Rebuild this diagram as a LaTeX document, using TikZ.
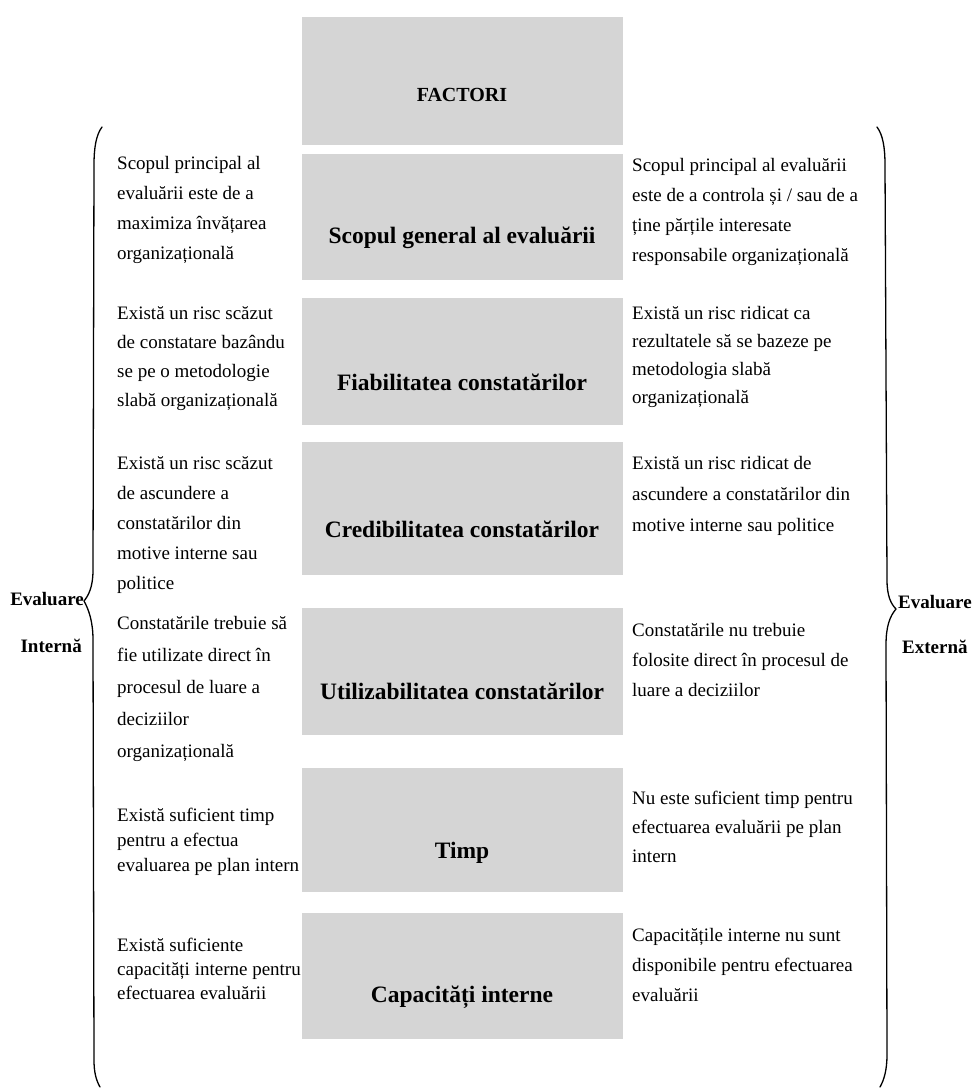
\documentclass[tikz,border=0pt]{standalone}
\usepackage{fontspec}
\setmainfont{Liberation Serif}
\definecolor{boxgray}{RGB}{213,213,213}
\tikzset{
  x=1pt, y=1pt,
  factorbox/.style={fill=boxgray, draw=none, minimum width=321pt, minimum height=#1, inner sep=0pt, anchor=north west},
  factorlabel/.style={font=\bfseries\fontsize{23.5}{26}\selectfont, inner sep=0pt},
  sidetext/.style={align=left, anchor=north west, inner sep=0pt, font=\fontsize{19}{#1}\selectfont},
  sidelabel/.style={font=\bfseries\fontsize{19}{22}\selectfont, inner sep=0pt},
  bracestyle/.style={line width=1.3pt, line cap=round, line join=round}
}
\begin{document}
\begin{tikzpicture}
\useasboundingbox (0,0) rectangle (979,-1092);
% gray factor boxes
\node[factorbox=128pt] (bf) at (302,-17) {};
\node[factorbox=126pt] (b1) at (302,-154) {};
\node[factorbox=127pt] (b2) at (302,-298) {};
\node[factorbox=133pt] (b3) at (302,-442) {};
\node[factorbox=127pt] (b4) at (302,-608) {};
\node[factorbox=124pt] (b5) at (302,-768) {};
\node[factorbox=126pt] (b6) at (302,-913) {};
% labels in boxes
\node[factorlabel, font=\bfseries\fontsize{20}{22}\selectfont] (lf) at (462,-95) {FACTORI};
\node[factorlabel] (l1) at (462,-238) {Scopul general al evaluării};
\node[factorlabel] (l2) at (462,-382) {Fiabilitatea constatărilor};
\node[factorlabel] (l3) at (462,-529) {Credibilitatea constatărilor};
\node[factorlabel] (l4) at (462,-691) {Utilizabilitatea constatărilor};
\node[factorlabel] (l5) at (462,-853) {Timp};
\node[factorlabel] (l6) at (462,-997) {Capacități interne};
% left texts
\node[sidetext=30pt] (t1) at (117,-156) {Scopul principal al\\evaluării este de a\\maximiza învățarea\\organizațională};
\node[sidetext=29pt] (t2) at (117,-306) {Există un risc scăzut\\de constatare bazându\\se pe o metodologie\\slabă organizațională};
\node[sidetext=30pt] (t3) at (117,-456) {Există un risc scăzut\\de ascundere a\\constatărilor din\\motive interne sau\\politice};
\node[sidetext=32pt] (t4) at (117,-616) {Constatările trebuie să\\fie utilizate direct în\\procesul de luare a\\deciziilor\\organizațională};
\node[sidetext=25pt] (t5) at (117,-808) {Există suficient timp\\pentru a efectua\\evaluarea pe plan intern};
\node[sidetext=24pt] (t6) at (117,-938) {Există suficiente\\capacități interne pentru\\efectuarea evaluării};
% right texts
\node[sidetext=30pt] (r1) at (632,-158) {Scopul principal al evaluării\\este de a controla și / sau de a\\ține părțile interesate\\responsabile organizațională};
\node[sidetext=28pt] (r2) at (632,-306) {Există un risc ridicat ca\\rezultatele să se bazeze pe\\metodologia slabă\\organizațională};
\node[sidetext=31pt] (r3) at (632,-456) {Există un risc ridicat de\\ascundere a constatărilor din\\motive interne sau politice};
\node[sidetext=30pt] (r4) at (632,-623) {Constatările nu trebuie\\folosite direct în procesul de\\luare a deciziilor};
\node[sidetext=29pt] (r5) at (632,-791) {Nu este suficient timp pentru\\efectuarea evaluării pe plan\\intern};
\node[sidetext=30pt] (r6) at (632,-928) {Capacitățile interne nu sunt\\disponibile pentru efectuarea\\evaluării};
% side labels
\node[sidelabel, anchor=east] (ei) at (84,-599) {Evaluare};
\node[sidelabel, anchor=east] (ii) at (82,-646) {Internă};
\node[sidelabel, anchor=west] (ee) at (898,-602) {Evaluare};
\node[sidelabel, anchor=west] (ex) at (902,-647) {Externă};
% left brace
\draw[bracestyle] (102,-127) .. controls (96,-135) and (94,-148) .. (94,-165)
  -- (93,-570) .. controls (93,-588) and (88,-596) .. (84,-601)
  .. controls (89,-610) and (93,-622) .. (93,-640)
  -- (94,-1060) .. controls (94,-1072) and (96,-1080) .. (100,-1087);
% right brace
\draw[bracestyle] (877,-127) .. controls (883,-135) and (885,-148) .. (885,-165)
  -- (887,-580) .. controls (887,-596) and (891,-604) .. (896,-609)
  .. controls (890,-616) and (886,-626) .. (886,-645)
  -- (887,-1055) .. controls (887,-1070) and (884,-1080) .. (880,-1087);
\end{tikzpicture}
\end{document}
